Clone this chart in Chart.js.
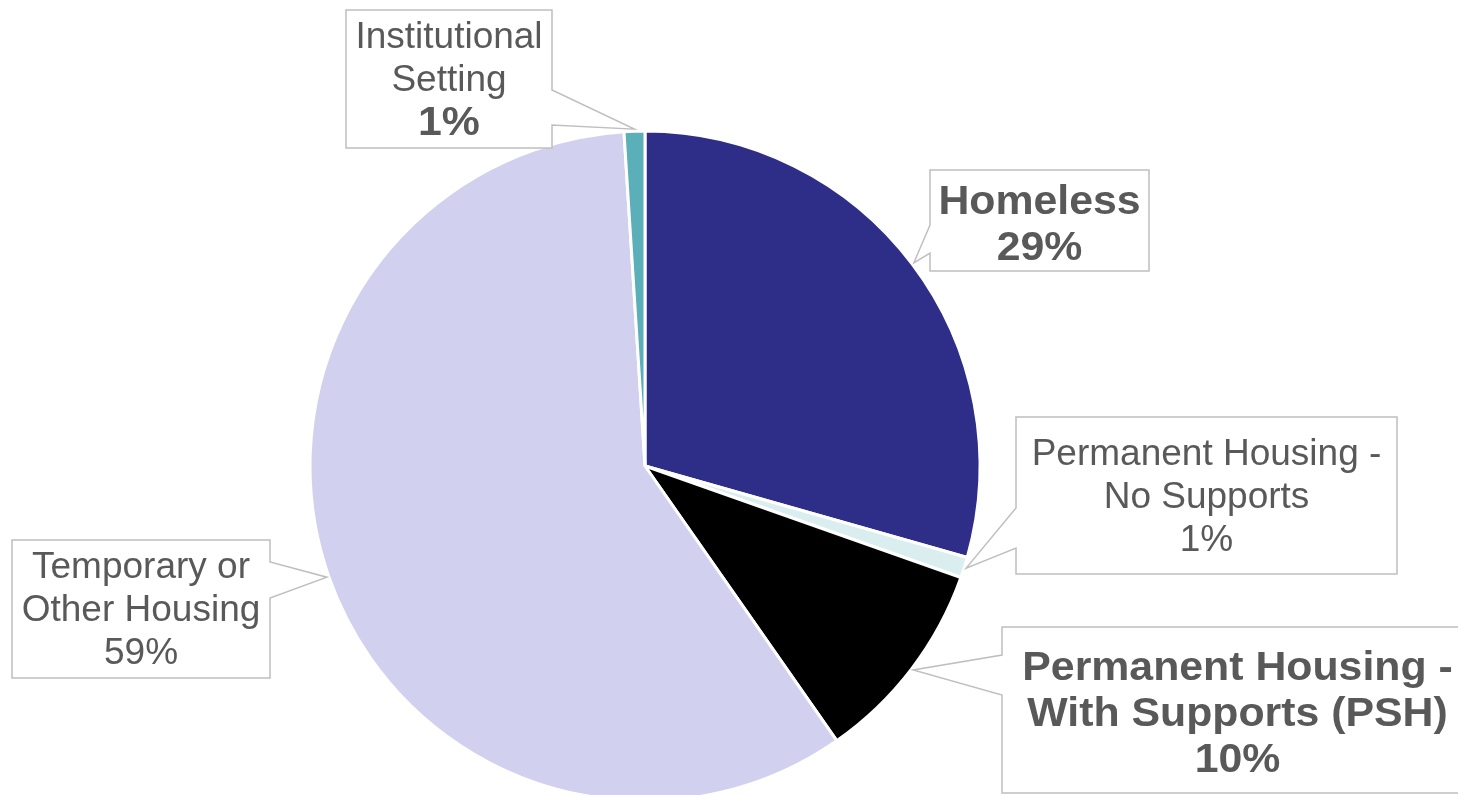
<!DOCTYPE html>
<html>
<head>
<meta charset="utf-8">
<script src="https://cdn.jsdelivr.net/npm/chart.js@4/dist/chart.umd.min.js"></script>
<style>
  html, body { margin: 0; padding: 0; background: #fff; }
</style>
</head>
<body>
<canvas id="pie" width="1458" height="795"></canvas>
<script>
// data
const categories = ["Homeless", "Permanent Housing - No Supports", "Permanent Housing - With Supports (PSH)", "Temporary or Other Housing", "Institutional Setting"];
const shares = [29.4, 1.0, 9.9, 58.7, 1.0];
const sliceColors = ["#2E2D88", "#DAEEEF", "#000000", "#D1D1EF", "#5AAFB8"];
// how each category name is broken in its callout
const labelLines = [
    ["Homeless"],
    ["Permanent Housing -", "No Supports"],
    ["Permanent Housing -", "With Supports (PSH)"],
    ["Temporary or", "Other Housing"],
    ["Institutional", "Setting"]
];

// callout boxes (layout only), pointer base on one side of the box
const callouts = [
    {x: 930, y: 170, w: 219, h: 101, side: "left", b1: 225, b2: 253, boldName: true, boldPct: true},
    {x: 1016, y: 417, w: 381, h: 157, side: "left", b1: 508, b2: 548, boldName: false, boldPct: false},
    {x: 1002, y: 627, w: 471, h: 166, side: "left", b1: 655, b2: 695, boldName: true, boldPct: true},
    {x: 12, y: 540, w: 258, h: 138, side: "right", b1: 562, b2: 598, boldName: false, boldPct: false},
    {x: 346, y: 10, w: 206, h: 138, side: "right", b1: 90, b2: 125, boldName: false, boldPct: true}
];

const fontFamily = "'Liberation Sans', Arial, sans-serif";
const textColor = "#595959";

const calloutPlugin = {
    id: "callouts",
    afterDatasetsDraw(chart) {
        const ctx = chart.ctx;
        const arcs = chart.getDatasetMeta(0).data;
        const total = shares.reduce((a, b) => a + b, 0);
        callouts.forEach((c, i) => {
            const arc = arcs[i];
            const mid = (arc.startAngle + arc.endAngle) / 2;
            const r = arc.outerRadius + 2;
            const tx = arc.x + Math.cos(mid) * r;
            const ty = arc.y + Math.sin(mid) * r;

            ctx.save();
            ctx.beginPath();
            if (c.side === "left") {
                ctx.moveTo(c.x, c.y);
                ctx.lineTo(c.x + c.w, c.y);
                ctx.lineTo(c.x + c.w, c.y + c.h);
                ctx.lineTo(c.x, c.y + c.h);
                ctx.lineTo(c.x, c.b2);
                ctx.lineTo(tx, ty);
                ctx.lineTo(c.x, c.b1);
            } else {
                ctx.moveTo(c.x, c.y);
                ctx.lineTo(c.x + c.w, c.y);
                ctx.lineTo(c.x + c.w, c.b1);
                ctx.lineTo(tx, ty);
                ctx.lineTo(c.x + c.w, c.b2);
                ctx.lineTo(c.x + c.w, c.y + c.h);
                ctx.lineTo(c.x, c.y + c.h);
            }
            ctx.closePath();
            ctx.fillStyle = "#ffffff";
            ctx.fill();
            ctx.strokeStyle = "#BFBFBF";
            ctx.lineWidth = 1.5;
            ctx.stroke();

            // text lines
            const pct = Math.round(shares[i] / total * 100) + "%";
            const lines = labelLines[i].map(t => ({text: t, bold: c.boldName}));
            lines.push({text: pct, bold: c.boldPct});
            const lineH = c.boldName ? 46 : 43;
            const cx = c.x + c.w / 2;
            const cy = c.y + c.h / 2;
            const startY = cy - (lines.length - 1) * lineH / 2;
            ctx.fillStyle = textColor;
            ctx.textAlign = "center";
            ctx.textBaseline = "middle";
            lines.forEach((ln, k) => {
                const y = startY + k * lineH + (c.boldName ? 5 : 2);
                if (ln.bold) {
                    // bold labels in the original are a little wider
                    ctx.save();
                    ctx.font = "bold 40px " + fontFamily;
                    ctx.translate(cx, y);
                    ctx.scale(1.07, 1);
                    ctx.fillText(ln.text, 0, 0);
                    ctx.restore();
                } else {
                    ctx.font = "37px " + fontFamily;
                    ctx.fillText(ln.text, cx, y);
                }
            });
            ctx.restore();
        });
    }
};

const pieChart = new Chart(document.getElementById("pie").getContext("2d"), {
    type: "pie",
    data: {
        labels: categories,
        datasets: [{
            data: shares,
            backgroundColor: sliceColors,
            borderColor: "#ffffff",
            borderWidth: 3,
            radius: 335,
            clip: false
        }]
    },
    options: {
        responsive: false,
        animation: false,
        layout: {
            padding: {left: 0, right: 168, top: 137, bottom: 0}
        },
        plugins: {
            legend: {display: false},
            tooltip: {enabled: false}
        }
    },
    plugins: [calloutPlugin]
});
</script>
</body>
</html>
